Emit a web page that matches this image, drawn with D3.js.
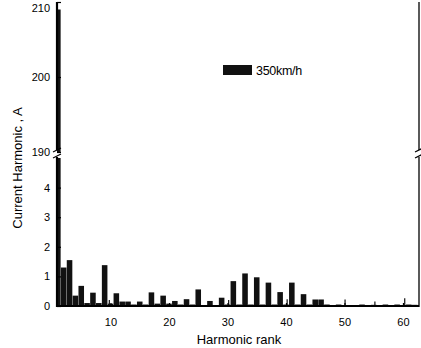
<!DOCTYPE html>
<html>
<head>
<meta charset="utf-8">
<script src="https://cdn.jsdelivr.net/npm/d3@7"></script>
<style>
  body { margin: 0; background: #fff; }
  svg { display: block; font-family: "Liberation Sans", Arial, sans-serif; }
</style>
</head>
<body>
<div id="vis"></div>
<script>
// harmonic order and measured current (A)
var ranks = d3.range(1, 63);
var current = [209, 1.3, 1.55, 0.35, 0.68, 0.1, 0.45, 0.1, 1.38, 0.08,
  0.43, 0.15, 0.15, 0.05, 0.15, 0.05, 0.46, 0.08, 0.35, 0.08,
  0.17, 0.05, 0.23, 0.05, 0.56, 0.03, 0.17, 0.03, 0.28, 0.05,
  0.84, 0.05, 1.1, 0.05, 0.97, 0.05, 0.79, 0.05, 0.47, 0.05,
  0.79, 0.05, 0.4, 0.05, 0.22, 0.22, 0.05, 0.03, 0.05, 0.03,
  0.03, 0.03, 0.05, 0.03, 0.04, 0.03, 0.05, 0.03, 0.05, 0.03,
  0.05, 0.04];
// thin interharmonic spikes
var spikePos = [9.8, 30.2, 40.2, 50.1, 55.2, 60.3];
var spikeVal = [0.2, 0.2, 0.23, 0.22, 0.15, 0.26];

var xTicks = [10, 20, 30, 40, 50, 60];
var yLowTicks = [0, 1, 2, 3, 4];
var yHighTicks = [190, 200, 210];
var seriesName = "350km/h";

var W = 421, H = 348;
var left = 57, right = 419, bottom = 306;

var svg = d3.select("#vis").append("svg")
    .attr("width", W)
    .attr("height", H);

var x = d3.scaleLinear().domain([0.855, 62.74]).range([left, right]);
var yLow = d3.scaleLinear().domain([0, 5]).range([bottom, 158]);
var yHigh = d3.scaleLinear().domain([190, 210]).range([152, 2]);

var bw = x(1.95) - x(1);

svg.append("clipPath").attr("id", "plot")
  .append("rect").attr("x", left).attr("y", 0).attr("width", right - left).attr("height", bottom);

var data = ranks.map(function(r, i) { return {r: r, v: current[i]}; });
var g = svg.append("g").attr("clip-path", "url(#plot)");

// lower panel bars
g.selectAll("rect.low")
  .data(data)
  .enter().append("rect")
    .attr("class", "low")
    .attr("x", function(d) { return x(d.r) - bw / 2; })
    .attr("width", bw)
    .attr("y", function(d) { return yLow(Math.min(d.v, 5)); })
    .attr("height", function(d) { return bottom - yLow(Math.min(d.v, 5)); })
    .attr("fill", "#111");

// upper panel bars
g.selectAll("rect.high")
  .data(data.filter(function(d) { return d.v > 190; }))
  .enter().append("rect")
    .attr("class", "high")
    .attr("x", function(d) { return x(d.r) - bw / 2; })
    .attr("width", bw)
    .attr("y", function(d) { return yHigh(d.v); })
    .attr("height", function(d) { return yHigh(190) - yHigh(d.v); })
    .attr("fill", "#111");

g.selectAll("line.spike")
  .data(spikePos)
  .enter().append("line")
    .attr("x1", function(d) { return x(d); })
    .attr("x2", function(d) { return x(d); })
    .attr("y1", bottom)
    .attr("y2", function(d, i) { return yLow(spikeVal[i]); })
    .attr("stroke", "#111")
    .attr("stroke-width", 1.2);

// axes
var ax = svg.append("g").attr("stroke", "#000").attr("fill", "none");
ax.append("line").attr("x1", left).attr("x2", left).attr("y1", 2).attr("y2", 150).attr("stroke-width", 2.2);
ax.append("line").attr("x1", left).attr("x2", left).attr("y1", 157).attr("y2", bottom + 1).attr("stroke-width", 2.2);
ax.append("line").attr("x1", right).attr("x2", right).attr("y1", 2).attr("y2", 150).attr("stroke-width", 1.3);
ax.append("line").attr("x1", right).attr("x2", right).attr("y1", 157).attr("y2", bottom + 1).attr("stroke-width", 1.3);
ax.append("line").attr("x1", left - 1).attr("x2", right).attr("y1", bottom).attr("y2", bottom).attr("stroke-width", 2.2);

// break marks
[left, right].forEach(function(px) {
  ax.append("line").attr("x1", px - 4).attr("x2", px + 4).attr("y1", 152).attr("y2", 148).attr("stroke-width", 1.2);
  ax.append("line").attr("x1", px - 4).attr("x2", px + 4).attr("y1", 158).attr("y2", 154).attr("stroke-width", 1.2);
});

var lowAxis = svg.append("g")
    .attr("transform", "translate(" + left + ",0)")
    .call(d3.axisRight(yLow).tickValues(yLowTicks).tickSize(4).tickFormat(d3.format("d")));
var highAxis = svg.append("g")
    .attr("transform", "translate(" + left + ",0)")
    .call(d3.axisRight(yHigh).tickValues(yHighTicks).tickSize(4).tickFormat(d3.format("d")));
var xAxis = svg.append("g")
    .attr("transform", "translate(0," + bottom + ")")
    .call(d3.axisTop(x).tickValues(xTicks).tickSize(3));

[lowAxis, highAxis, xAxis].forEach(function(a) {
  a.select(".domain").remove();
  a.selectAll("line").attr("stroke", "#000").attr("stroke-width", 1.2);
});
[lowAxis, highAxis].forEach(function(a) {
  a.selectAll("text")
    .attr("x", -7)
    .attr("text-anchor", "end")
    .attr("font-size", 11)
    .attr("font-family", "Liberation Sans, Arial, sans-serif")
    .attr("fill", "#000");
});
// keep the top label inside the page
highAxis.selectAll("text").filter(function(d) { return d === 210; }).attr("dy", "0.85em");

xAxis.selectAll("text")
  .attr("y", 20)
  .attr("dy", 0)
  .attr("font-size", 11)
  .attr("font-family", "Liberation Sans, Arial, sans-serif")
  .attr("fill", "#000");

// axis titles
svg.append("text")
  .attr("x", 239)
  .attr("y", 344)
  .attr("text-anchor", "middle")
  .attr("font-size", 13)
  .text("Harmonic rank");

svg.append("text")
  .attr("transform", "translate(22,168) rotate(-90)")
  .attr("text-anchor", "middle")
  .attr("font-size", 13)
  .text("Current Harmonic , A");

// legend
svg.append("rect")
  .attr("x", 223).attr("y", 65).attr("width", 29).attr("height", 10)
  .attr("fill", "#111");
svg.append("text")
  .attr("x", 256).attr("y", 75)
  .attr("font-size", 12.5)
  .attr("letter-spacing", -0.3)
  .text(seriesName);
</script>
</body>
</html>
